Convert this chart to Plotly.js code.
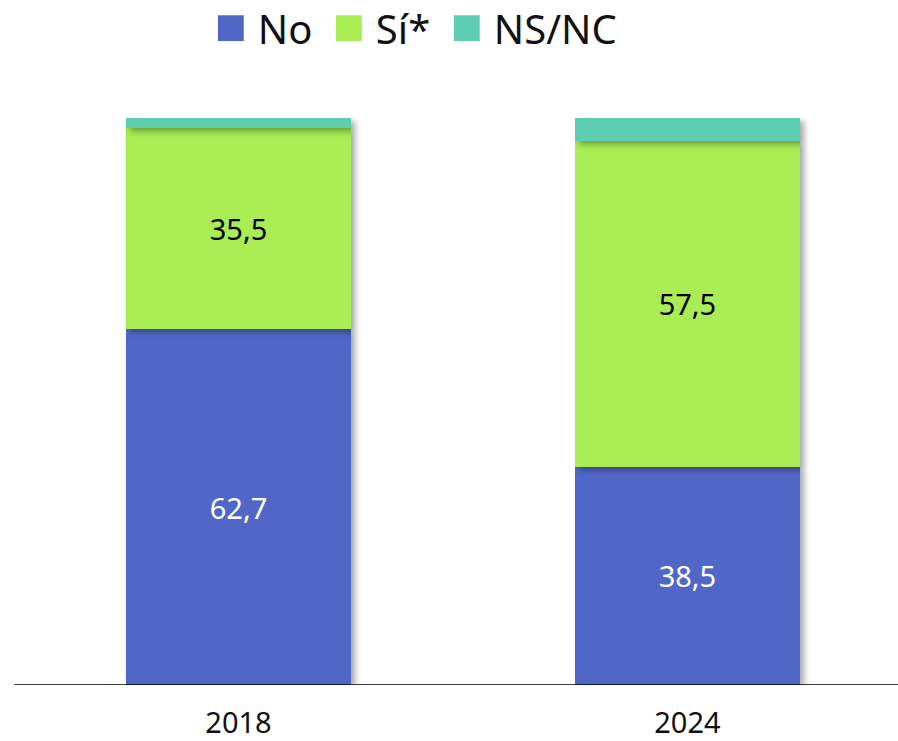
<!DOCTYPE html>
<html><head><meta charset="utf-8">
<script src="https://cdn.plot.ly/plotly-3.0.1.min.js"></script>
<style>
body{margin:0;background:#fff;}
#chart .trace.bars .point path{filter:drop-shadow(4px 3px 3px rgba(0,0,0,0.35));}
#chart .legend .legendpoints path{transform:translate(13px,0px) scale(2.15);}
#chart .legend .scrollbox{clip-path:none !important;}
</style>
</head><body>
<div id="chart" style="width:898px;height:741px;"></div>
<script>
const years = ['2018', '2024'];
const noVals = [62.7, 38.5];
const siVals = [35.5, 57.5];
const nsncVals = [1.8, 4.0];
const seriesNames = ['No', 'Sí*', 'NS/NC'];
const colors = ['#5067C8', '#A9EC53', '#5DCEB1'];

const font = 'Noto Sans, Lato, sans-serif';
function tr(name, vals, color, textColor, showText) {
  return {
    type: 'bar', x: years, y: vals, name: name,
    marker: {color: color, line: {width: 0}},
    width: 0.5,
    text: showText ? vals.map(v => v.toFixed(1).replace('.', ',')) : undefined,
    texttemplate: showText ? '%{text}' : undefined,
    textposition: showText ? 'inside' : 'none',
    insidetextanchor: 'middle',
    textangle: 0,
    textfont: {family: font, size: 29, color: textColor},
    hoverinfo: 'none'
  };
}
const data = [
  tr(seriesNames[0], noVals, colors[0], '#ffffff', true),
  tr(seriesNames[1], siVals, colors[1], '#000000', true),
  tr(seriesNames[2], nsncVals, colors[2], '#000000', false)
];
const layout = {
  width: 898, height: 741,
  margin: {l: 14, r: 0, t: 118, b: 56},
  barmode: 'stack',
  paper_bgcolor: '#fff', plot_bgcolor: '#fff',
  separators: ',.',
  showlegend: true,
  legend: {orientation: 'h', traceorder: 'normal',
           xref: 'container', yref: 'container',
           x: 0.2426, xanchor: 'left', y: 0.962, yanchor: 'middle',
           entrywidth: 73, entrywidthmode: 'pixels',
           font: {family: font, size: 40, color: '#111'}, itemwidth: 30},
  xaxis: {type: 'category', range: [-0.5, 1.469], showgrid: false, zeroline: false,
          showline: false, ticks: '', ticklabelstandoff: 18, automargin: false,
          tickfont: {family: font, size: 29, color: '#111'}},
  yaxis: {range: [0, 100], visible: false, showgrid: false, zeroline: false},
  shapes: [{type: 'line', xref: 'paper', yref: 'y', x0: 0, x1: 1, y0: 0, y1: 0,
            line: {color: '#000', width: 1.5}, layer: 'above'}],
  font: {family: font}
};
Plotly.newPlot('chart', data, layout, {displayModeBar: false, staticPlot: true});
</script>
</body></html>
